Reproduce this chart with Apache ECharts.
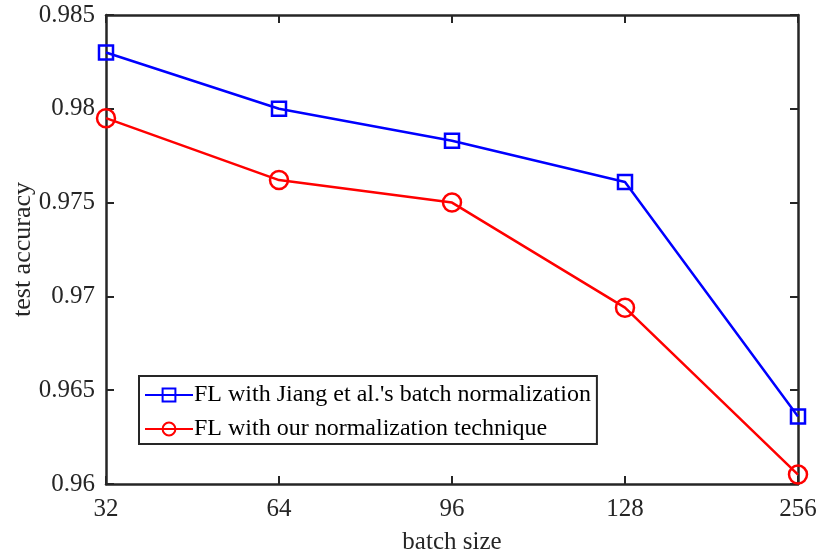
<!DOCTYPE html>
<html><head><meta charset="utf-8">
<script src="https://cdn.jsdelivr.net/npm/echarts@6/dist/echarts.min.js"></script>
<style>html,body{margin:0;padding:0;background:#fff}#c{width:820px;height:555px}</style>
</head><body><div id="c"></div>
<script>
const categories = ['32', '64', '96', '128', '256'];
const jiangBN = [0.9830, 0.9800, 0.9783, 0.9761, 0.9636];
const ourNorm = [0.9795, 0.9762, 0.9750, 0.9694, 0.9605];
const yTicks = [0.96, 0.965, 0.97, 0.975, 0.98, 0.985];

const font = 'Liberation Serif';
const axisColor = '#262626';
const chart = echarts.init(document.getElementById('c'));
chart.setOption({
  animation: false,
  grid: {left: 106, right: 22, top: 15, bottom: 71, containLabel: false, outerBoundsMode: 'none'},
  legend: {
    left: 139, top: 376, orient: 'vertical',
    borderColor: axisColor, borderWidth: 2, backgroundColor: '#fff',
    padding: [5, 6, 1, 5], itemGap: 6, itemWidth: 48, itemHeight: 16,
    textStyle: {fontFamily: font, fontSize: 24, color: '#000', lineHeight: 28, padding: [0, 0, 0, -4]},
    data: ['FL with Jiang et al.\'s batch normalization', 'FL with our normalization technique']
  },
  xAxis: [{
    type: 'category', data: categories, boundaryGap: false,
    name: 'batch size', nameLocation: 'middle', nameGap: 46, nameMoveOverlap: false,
    nameTextStyle: {fontFamily: font, fontSize: 25, color: '#262626'},
    axisLine: {lineStyle: {color: axisColor, width: 2.5}},
    axisTick: {inside: true, length: 8, lineStyle: {color: axisColor, width: 2}},
    axisLabel: {fontFamily: font, fontSize: 25, color: '#262626', margin: 13,
      showMinLabel: true, showMaxLabel: true},
    splitLine: {show: false}
  }, {
    type: 'category', data: categories, boundaryGap: false, position: 'top',
    axisLine: {lineStyle: {color: axisColor, width: 2.5}},
    axisTick: {inside: true, length: 8, lineStyle: {color: axisColor, width: 2}},
    axisLabel: {show: false}
  }],
  yAxis: [{
    type: 'value', min: 0.96, max: 0.985, interval: 0.005,
    name: 'test accuracy', nameLocation: 'middle', nameGap: 70, nameRotate: 90, nameMoveOverlap: false,
    nameTextStyle: {fontFamily: font, fontSize: 26, color: '#262626'},
    axisLine: {show: true, lineStyle: {color: axisColor, width: 2.5}},
    axisTick: {show: true, inside: true, length: 8, lineStyle: {color: axisColor, width: 2}},
    axisLabel: {fontFamily: font, fontSize: 25, color: '#262626', margin: 11,
      formatter: v => { const t = yTicks.find(k => Math.abs(k - v) < 1e-9); return t === undefined ? '' : String(t); }},
    splitLine: {show: false}
  }, {
    type: 'value', min: 0.96, max: 0.985, interval: 0.005, position: 'right',
    axisLine: {show: true, lineStyle: {color: axisColor, width: 2.5}},
    axisTick: {show: true, inside: true, length: 8, lineStyle: {color: axisColor, width: 2}},
    axisLabel: {show: false}, splitLine: {show: false}
  }],
  series: [{
    name: 'FL with Jiang et al.\'s batch normalization', type: 'line', data: jiangBN,
    symbol: 'rect', symbolSize: 14, showAllSymbol: true,
    lineStyle: {color: '#0000ff', width: 2.5},
    itemStyle: {color: 'rgba(255,255,255,0)', borderColor: '#0000ff', borderWidth: 2.5},
    z: 3
  }, {
    name: 'FL with our normalization technique', type: 'line', data: ourNorm,
    symbol: 'circle', symbolSize: 18, showAllSymbol: true,
    lineStyle: {color: '#ff0000', width: 2.5},
    itemStyle: {color: 'rgba(255,255,255,0)', borderColor: '#ff0000', borderWidth: 2.5},
    z: 3
  }]
});
</script></body></html>
